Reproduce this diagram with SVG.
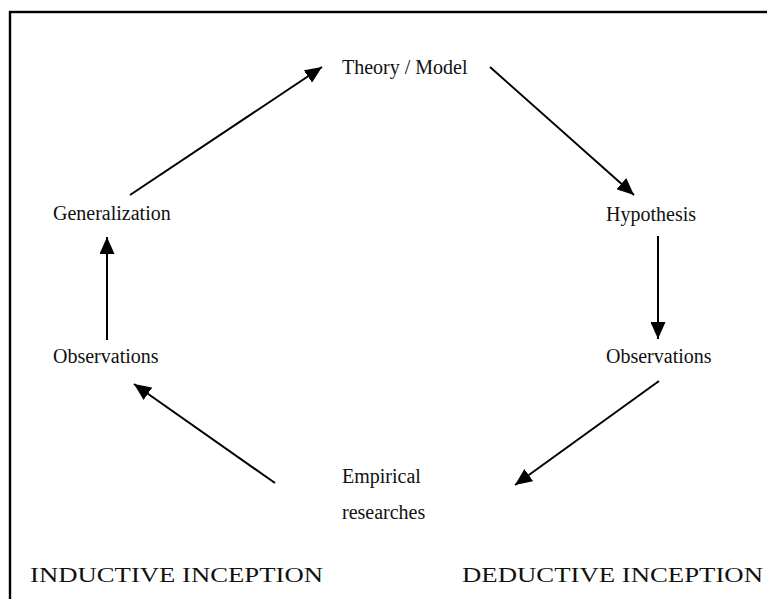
<svg xmlns="http://www.w3.org/2000/svg" width="767" height="599" viewBox="0 0 767 599">
  <style>
    .lbl { font-family: "Liberation Serif", "Times New Roman", serif; font-size: 20px; fill: #111; }
    .cap { font-family: "Liberation Serif", "Times New Roman", serif; font-size: 22px; fill: #111; }
    .edge { stroke: #000; stroke-width: 2; fill: none; marker-end: url(#head); }
  </style>
  <defs>
    <marker id="head" viewBox="0 0 17 15" refX="17" refY="7.5" markerUnits="userSpaceOnUse" markerWidth="17" markerHeight="15" orient="auto">
      <path d="M0,0 L17,7.5 L0,15 z" fill="#000"/>
    </marker>
  </defs>
  <rect width="767" height="599" fill="#fff"/>
  <!-- outer frame, running past the right and bottom edges -->
  <rect x="10" y="12" width="800" height="700" fill="none" stroke="#000" stroke-width="2.4"/>

  <g id="connectors">
    <line class="edge" x1="130" y1="195" x2="322" y2="67"/>
    <line class="edge" x1="490" y1="67" x2="634" y2="195"/>
    <line class="edge" x1="658" y1="236" x2="658" y2="339"/>
    <line class="edge" x1="659" y1="381" x2="515" y2="485"/>
    <line class="edge" x1="275" y1="483" x2="134" y2="384"/>
    <line class="edge" x1="107" y1="340" x2="107" y2="237"/>
  </g>

  <g id="theory"><text class="lbl" x="342" y="74">Theory / Model</text></g>
  <g id="hypothesis"><text class="lbl" x="606" y="221">Hypothesis</text></g>
  <g id="observations-deductive"><text class="lbl" x="606" y="363">Observations</text></g>
  <g id="empirical"><text class="lbl" x="342" y="483">Empirical</text><text class="lbl" x="342" y="519">researches</text></g>
  <g id="observations-inductive"><text class="lbl" x="53" y="363">Observations</text></g>
  <g id="generalization"><text class="lbl" x="53" y="220">Generalization</text></g>

  <g id="inductive"><text class="cap" x="30" y="582" textLength="293" lengthAdjust="spacingAndGlyphs">INDUCTIVE INCEPTION</text></g>
  <g id="deductive"><text class="cap" x="462" y="582" textLength="301" lengthAdjust="spacingAndGlyphs">DEDUCTIVE INCEPTION</text></g>
</svg>
